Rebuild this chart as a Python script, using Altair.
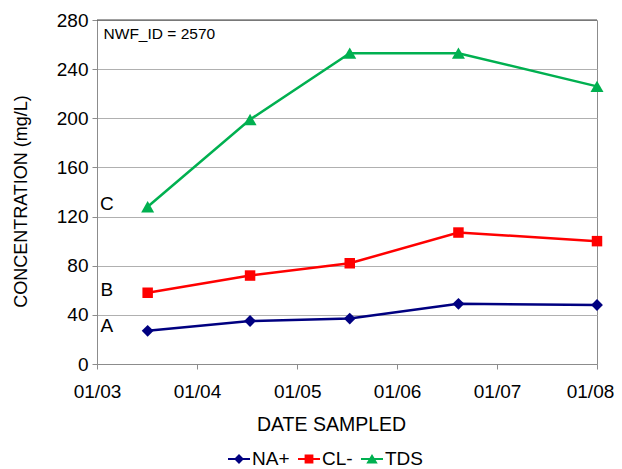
import altair as alt
import pandas as pd

# ---- data ----
series = ["NA+", "CL-", "TDS"]
colors = ["#000080", "#FF0000", "#00B050"]
dates = ["2003-07-05T00:00:00", "2004-07-13T00:00:00", "2005-07-12T00:00:00",
         "2006-08-13T00:00:00", "2008-01-01T00:00:00"]
na_vals = [27, 35, 37, 49, 48]
cl_vals = [58, 72, 82, 107, 100]
tds_vals = [128, 199, 253, 253, 226]

y_ticks = [0, 40, 80, 120, 160, 200, 240, 280]
x_years = [2003, 2004, 2005, 2006, 2007, 2008]

tag_text = ["A", "B", "C"]
tag_date = ["2003-02-06T00:00:00"] * 3
tag_val = [31, 60, 130]

note_text = ["NWF_ID = 2570"]
note_date = ["2003-01-25T00:00:00"]
note_val = [268.5]

FONT = "Liberation Sans"
FS = 19

rows = []
for s, vals in zip(series, [na_vals, cl_vals, tds_vals]):
    for d, v in zip(dates, vals):
        rows.append({"series": s, "date": d, "value": v})
df = pd.DataFrame(rows)
tags = pd.DataFrame({"t": tag_text, "date": tag_date, "value": tag_val})
note = pd.DataFrame({"t": note_text, "date": note_date, "value": note_val})

x_dom = [alt.DateTime(year=x_years[0], month=1, date=1),
         alt.DateTime(year=x_years[-1], month=1, date=1)]
x_vals = [alt.DateTime(year=y, month=1, date=1) for y in x_years]

x_enc = alt.X(
    "date:T",
    scale=alt.Scale(domain=x_dom, nice=False),
    axis=alt.Axis(values=x_vals, format="%m/%y", title="DATE SAMPLED",
                  grid=False, tickSize=5, labelPadding=13, labelFlush=False,
                  labelOffset={"condition": {"test": f"year(datum.value) == {x_years[-1]}",
                                             "value": -7}, "value": 0},
                  labelFontSize=FS, titleFontSize=19.5, titleFontWeight="normal",
                  titleX=234, titleY=66, titleBaseline="alphabetic",
                  domainColor="#8C8C8C", tickColor="#8C8C8C",
                  labelColor="black", titleColor="black", labelFont=FONT,
                  titleFont=FONT),
)
y_enc = alt.Y(
    "value:Q",
    scale=alt.Scale(domain=[0, 280], nice=False),
    axis=alt.Axis(values=y_ticks, title="CONCENTRATION (mg/L)", grid=True,
                  gridColor="#B0B0B0", tickSize=5, labelPadding=4,
                  labelFontSize=FS, titleFontSize=18, titleFontWeight="normal",
                  titleX=-76, titleY=181, titleBaseline="middle",
                  domainColor="#8C8C8C", tickColor="#8C8C8C",
                  labelColor="black", titleColor="black", labelFont=FONT,
                  titleFont=FONT),
)

base = alt.Chart(df)

shapes = {"NA+": ("diamond", 140), "CL-": ("square", 110), "TDS": ("triangle-up", 170)}
layers = []
for i, (s, c) in enumerate(zip(series, colors)):
    sub = base.transform_filter(alt.datum.series == s)
    layers.append(sub.mark_line(strokeWidth=2.5, color=c).encode(
        x=x_enc if i == 0 else "date:T", y=y_enc if i == 0 else "value:Q"))
for s, c in zip(series, colors):
    shp, sz = shapes[s]
    layers.append(
        base.transform_filter(alt.datum.series == s)
        .mark_point(filled=True, shape=shp, size=sz, color=c, opacity=1)
        .encode(x="date:T", y="value:Q")
    )

legend_paths = [
    "M-1,-0.1H1V0.1H-1Z M0,-0.45L0.45,0L0,0.45L-0.45,0Z",
    "M-1,-0.1H1V0.1H-1Z M-0.4,-0.4H0.4V0.4H-0.4Z",
    "M-1,-0.1H1V0.1H-1Z M0,-0.45L0.52,0.4L-0.52,0.4Z",
]
leg = alt.Legend(title=None, orient="none", direction="horizontal",
                 legendX=131, legendY=428, symbolSize=484, symbolStrokeWidth=0,
                 symbolOpacity=1, labelFontSize=FS, labelFont=FONT,
                 labelColor="black", labelOffset=2, columnPadding=8)
legend_layer = base.mark_point(filled=True, opacity=0).encode(
    x="date:T", y="value:Q",
    shape=alt.Shape("series:N", scale=alt.Scale(domain=series, range=legend_paths), legend=leg),
    color=alt.Color("series:N", scale=alt.Scale(domain=series, range=colors), legend=leg),
)
layers.append(legend_layer)

layers.append(alt.Chart(pd.DataFrame({"value": [y_ticks[-1]]})).mark_rule(
    color="#404040", strokeWidth=1).encode(y="value:Q"))

layers.append(alt.Chart(tags).mark_text(fontSize=FS, font=FONT, color="black",
                                        align="center", baseline="middle").encode(
    x="date:T", y="value:Q", text="t:N"))
layers.append(alt.Chart(note).mark_text(fontSize=15.5, font=FONT, color="black",
                                        align="left", baseline="middle").encode(
    x="date:T", y="value:Q", text="t:N"))

chart = alt.layer(*layers).properties(
    width=500, height=344,
    autosize=alt.AutoSizeParams(type="none"),
    padding={"left": 89, "top": 12, "right": 17, "bottom": 110},
    background="white",
).configure_view(stroke="#8C8C8C", strokeWidth=1)

chart.save("out.html", embed_options={"renderer": "svg", "actions": False})
